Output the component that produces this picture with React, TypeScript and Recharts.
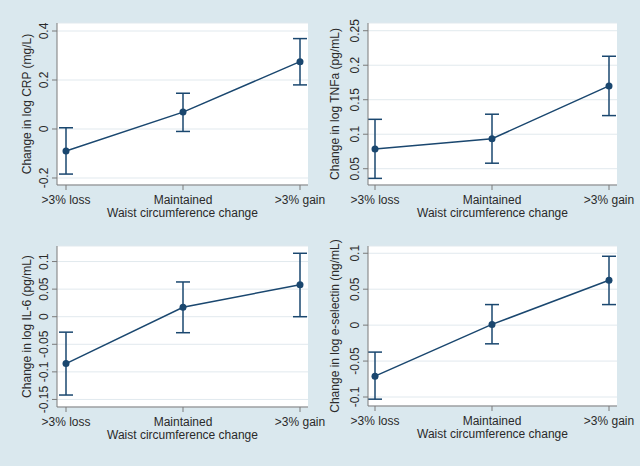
import React from 'react';
import { LineChart, Line, XAxis, YAxis, CartesianGrid, ErrorBar } from 'recharts';

const categories = ['>3% loss', 'Maintained', '>3% gain'];

// point estimates with lower / upper CI
const crpMean = [-0.09, 0.069, 0.275];
const crpLow = [-0.184, -0.01, 0.18];
const crpHigh = [0.005, 0.146, 0.369];

const tnfMean = [0.0785, 0.0935, 0.17];
const tnfLow = [0.036, 0.058, 0.127];
const tnfHigh = [0.1216, 0.129, 0.213];

const il6Mean = [-0.085, 0.017, 0.058];
const il6Low = [-0.142, -0.029, 0.0];
const il6High = [-0.028, 0.063, 0.115];

const eselMean = [-0.071, 0.001, 0.0625];
const eselLow = [-0.103, -0.026, 0.0286];
const eselHigh = [-0.0375, 0.0286, 0.0958];

const crpTicks = [-0.2, 0, 0.2, 0.4];
const tnfTicks = [0.05, 0.1, 0.15, 0.2, 0.25];
const il6Ticks = [-0.15, -0.1, -0.05, 0, 0.05, 0.1];
const eselTicks = [-0.1, -0.05, 0, 0.05, 0.1];

const NAVY = '#1a476f';
const BG = '#dae8ee';
const AXIS = '#7a7a7a';
const TEXT = '#2a2a2a';
const FONT = '"Liberation Sans", Arial, Helvetica, sans-serif';

const buildRows = (mean: number[], low: number[], high: number[]) =>
  categories.map((name, i) => ({
    name,
    value: mean[i],
    err: [mean[i] - low[i], high[i] - mean[i]],
  }));

interface PanelProps {
  title: string;
  mean: number[];
  low: number[];
  high: number[];
  ticks: number[];
  domain: [number, number];
  left: number;
  top: number;
  width: number;
  plotLeft: number;
  plotTop: number;
  plotRight: number;
  plotBottom: number;
  padL: number;
  padR: number;
  labelX: number;
}

const YTick = (props: any) => {
  const { x, y, payload } = props;
  return (
    <text
      x={x}
      y={y}
      transform={`rotate(-90 ${x} ${y})`}
      textAnchor="middle"
      fontSize={12}
      fontFamily={FONT}
      fill={TEXT}
    >
      {String(payload.value)}
    </text>
  );
};

const Panel: React.FC<PanelProps> = (p) => {
  const height = 233;
  const xAxisHeight = height - p.plotBottom;
  const data = buildRows(p.mean, p.low, p.high);
  return (
    <div style={{ position: 'absolute', left: p.left, top: p.top }}>
      <LineChart
        width={p.width}
        height={height}
        data={data}
        margin={{ top: p.plotTop, right: p.width - p.plotRight, left: 0, bottom: 0 }}
      >
        <CartesianGrid vertical={false} fill="#ffffff" stroke="#e1e9ee" />
        <XAxis
          dataKey="name"
          scale="point"
          padding={{ left: p.padL, right: p.padR }}
          height={xAxisHeight}
          stroke={AXIS}
          tickSize={5}
          tickMargin={5}
          interval={0}
          tick={{ fontSize: 12, fontFamily: FONT, fill: TEXT }}
          label={{
            value: 'Waist circumference change',
            position: 'insideBottom',
            offset: xAxisHeight - 32,
            style: { fontSize: 12, fontFamily: FONT, fill: TEXT },
          }}
        />
        <YAxis
          type="number"
          width={p.plotLeft}
          domain={p.domain}
          ticks={p.ticks}
          allowDataOverflow
          stroke={AXIS}
          tickSize={5}
          tickMargin={4}
          tick={<YTick />}
          label={{
            value: p.title,
            angle: -90,
            position: 'insideLeft',
            offset: p.labelX,
            style: { textAnchor: 'middle', fontSize: 12, fontFamily: FONT, fill: TEXT },
          }}
        />
        <Line
          type="linear"
          dataKey="value"
          stroke={NAVY}
          strokeWidth={1.5}
          dot={{ r: 3.5, fill: NAVY, stroke: NAVY, strokeWidth: 0 }}
          activeDot={false}
          isAnimationActive={false}
        >
          <ErrorBar dataKey="err" width={7} stroke={NAVY} strokeWidth={1.5} direction="y" isAnimationActive={false} />
        </Line>
      </LineChart>
    </div>
  );
};

export default function App() {
  return (
    <div style={{ position: 'absolute', left: 0, top: 0, width: 640, height: 466, background: BG, overflow: 'hidden' }}>
      <Panel
        title="Change in log CRP (mg/L)"
        mean={crpMean} low={crpLow} high={crpHigh}
        ticks={crpTicks} domain={[-0.2286, 0.4327]}
        left={0} top={0} width={340}
        plotLeft={57} plotTop={23} plotRight={308} plotBottom={185}
        padL={9} padR={8} labelX={27}
      />
      <Panel
        title="Change in log TNFa (pg/mL)"
        mean={tnfMean} low={tnfLow} high={tnfHigh}
        ticks={tnfTicks} domain={[0.0264, 0.2612]}
        left={320} top={0} width={320}
        plotLeft={48} plotTop={23} plotRight={297} plotBottom={185}
        padL={7} padR={8} labelX={15}
      />
      <Panel
        title="Change in log IL-6 (pg/mL)"
        mean={il6Mean} low={il6Low} high={il6High}
        ticks={il6Ticks} domain={[-0.1637, 0.1282]}
        left={0} top={233} width={340}
        plotLeft={57} plotTop={13} plotRight={308} plotBottom={174}
        padL={9} padR={8} labelX={27}
      />
      <Panel
        title="Change in log e-selectin (ng/mL)"
        mean={eselMean} low={eselLow} high={eselHigh}
        ticks={eselTicks} domain={[-0.1125, 0.1101]}
        left={320} top={233} width={320}
        plotLeft={48} plotTop={13} plotRight={297} plotBottom={173}
        padL={7} padR={8} labelX={15}
      />
    </div>
  );
}
